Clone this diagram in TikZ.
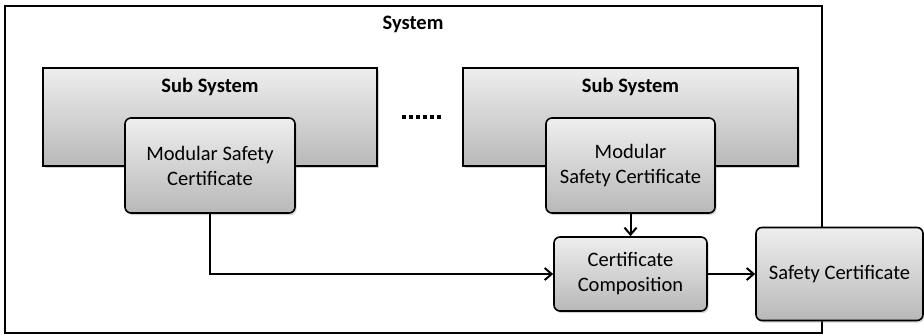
\documentclass[tikz,border=0pt]{standalone}
\usepackage{fontspec}
\setmainfont{Carlito}
\usetikzlibrary{arrows.meta,shadows}
\definecolor{boxtop}{HTML}{EEEEEE}
\definecolor{boxbot}{HTML}{B8B8B8}
\tikzset{
  shade box/.style={draw=black, line width=1.6pt, top color=boxtop, bottom color=boxbot,
    drop shadow={shadow xshift=1.5pt, shadow yshift=-2pt, opacity=0.35},
    inner sep=0pt, align=center, font=\fontsize{20.5}{25}\selectfont},
  subsys/.style={shade box, sharp corners},
  cert/.style={shade box, rounded corners=6pt},
  title/.style={font=\fontsize{20.5}{22}\selectfont\bfseries, inner sep=0pt},
  flow/.style={line width=2pt, -{Straight Barb[length=7pt, width=12pt, line width=2pt]}},
}
\begin{document}
\begin{tikzpicture}[x=1pt, y=-1pt]
  \useasboundingbox (0,0) rectangle (924,335);
  % enclosing system boundary
  \node[draw=black, line width=2.8pt, minimum width=817pt, minimum height=327pt, inner sep=0pt]
    (sys) at (413.5,169.5) {};
  \node[title] (systitle) at (413,24) {System};

  % first sub system
  \node[subsys, minimum width=334pt, minimum height=98pt] (sub1) at (210,117) {};
  \node[title] (sub1title) at (210,87) {Sub System};
  \node[cert, minimum width=170pt, minimum height=95pt] (msc1) at (210,165.5)
    {Modular Safety\\Certificate};

  % ellipsis between sub systems
  \coordinate (dotsA) at (402,117);
  \coordinate (dotsB) at (442,117);
  \draw[line width=4pt, dash pattern=on 4pt off 3pt] (dotsA) -- (dotsB);

  % second sub system
  \node[subsys, minimum width=335pt, minimum height=98pt] (sub2) at (630.5,117) {};
  \node[title] (sub2title) at (630.5,87) {Sub System};
  \node[cert, minimum width=169pt, minimum height=95pt] (msc2) at (630.5,165.5)
    {Modular\\Safety Certificate};

  % composition and resulting certificate
  \node[cert, minimum width=153pt, minimum height=74pt] (cc) at (630.5,274)
    {Certificate\\Composition};
  \node[cert, minimum width=167pt, minimum height=93pt] (sc) at (839.5,274)
    {Safety Certificate};

  % connectors
  \draw[flow] (msc1.south) |- (cc.west);
  \draw[flow] (msc2.south) -- (cc.north);
  \draw[flow] (cc.east) -- (sc.west);
\end{tikzpicture}
\end{document}
